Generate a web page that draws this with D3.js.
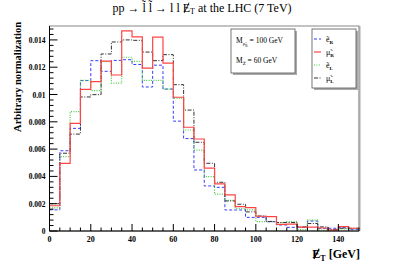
<!DOCTYPE html>
<html>
<head>
<meta charset="utf-8">
<script src="https://cdn.jsdelivr.net/npm/d3@7"></script>
<style>
  body { margin: 0; background: #fff; }
  text { font-family: "Liberation Serif", "DejaVu Serif", serif; }
</style>
</head>
<body>
<div id="chart"></div>
<script>
// bin edges: 30 bins of 5 GeV from 0 to 150
const binWidth = 5;
const nBins = 30;

// values (arbitrary normalization)
const eR = [1.55, 5.88, 7.52, 11.02, 12.48, 11.7, 12.5, 12.55, 12.2, 10.55, 12.15, 10.4, 8.05, 6.77, 4.47,
            3.3, 3.2, 1.54, 1.54, 1.0, 1.0, 0.68, 0.44, 0.27, 0.27, 0.73, 0.2, 0.2, 0.25, 0.1].map(v => v / 1000);
const muR = [1.85, 4.96, 7.89, 10.37, 10.95, 12.45, 11.43, 14.67, 14.22, 11.93, 14.2, 12.3, 9.8, 7.6, 6.74,
             4.6, 3.45, 2.64, 1.78, 1.71, 1.08, 1.05, 0.49, 0.5, 0.29, 0.29, 0.22, 0.07, 0.32, 0.2].map(v => v / 1000);
const eL = [1.7, 5.45, 8.74, 11.04, 10.28, 12.4, 10.84, 12.73, 12.43, 11.04, 11.04, 10.4, 9.74, 7.4, 5.93,
            3.98, 2.7, 2.25, 1.65, 1.55, 0.68, 0.68, 0.62, 0.68, 0.1, 0.8, 0.06, 0.06, 0.15, 0.15].map(v => v / 1000);
const muL = [2.0, 5.7, 7.1, 9.82, 9.99, 12.97, 13.85, 14.0, 13.97, 13.11, 12.48, 12.92, 10.72, 8.86, 6.5,
             4.96, 3.57, 2.2, 1.96, 1.4, 1.1, 0.7, 0.62, 0.62, 0.3, 0.55, 0.3, 0.1, 0.2, 0.2].map(v => v / 1000);

const xTicks = [0, 20, 40, 60, 80, 100, 120, 140];
const yTicks = [0, 0.002, 0.004, 0.006, 0.008, 0.01, 0.012, 0.014];

const width = 399, height = 270;
const margin = {top: 26, bottom: 39, left: 49.5, right: 40};

const svg = d3.select("#chart")
    .append("svg")
    .attr("width", width)
    .attr("height", height);

const xScale = d3.scaleLinear()
    .domain([0, 150])
    .range([margin.left, width - margin.right]);

const yScale = d3.scaleLinear()
    .domain([0, 0.01502])
    .range([height - margin.bottom, margin.top]);

// frame
svg.append("rect")
    .attr("x", xScale(0))
    .attr("y", yScale(0.01502))
    .attr("width", xScale(150) - xScale(0))
    .attr("height", yScale(0) - yScale(0.01502))
    .attr("fill", "none")
    .attr("stroke", "#888")
    .attr("stroke-width", 1);

svg.append("line")
    .attr("x1", xScale(150) + 0.5).attr("x2", xScale(150) + 0.5)
    .attr("y1", yScale(0.01502)).attr("y2", yScale(0))
    .attr("stroke", "#aaa")
    .attr("stroke-width", 2);

// histograms
const series = [
    {name: "eR", values: eR, color: "#3b3bff", dash: "3,2", w: 1},
    {name: "eL", values: eL, color: "#44cc44", dash: "1,1.4", w: 1.2},
    {name: "muL", values: muL, color: "#333", dash: "4,1.5,1,1.5", w: 1},
    {name: "muR", values: muR, color: "#ff4444", dash: null, w: 1.2}
];

const step = d3.line()
    .x(d => xScale(d[0]))
    .y(d => yScale(d[1]))
    .curve(d3.curveStepAfter);

series.forEach(s => {
    const pts = s.values.map((v, i) => [i * binWidth, v]);
    pts.push([nBins * binWidth, s.values[nBins - 1]]);
    svg.append("path")
        .attr("d", step(pts))
        .attr("fill", "none")
        .attr("stroke", s.color)
        .attr("stroke-width", s.w)
        .attr("stroke-dasharray", s.dash);
});

// axes (ticks inside, ROOT style)
const xAxis = svg.append("g")
    .attr("transform", `translate(0,${yScale(0)})`);
xAxis.append("line")
    .attr("x1", xScale(0)).attr("x2", xScale(150))
    .attr("stroke", "#000");
xAxis.selectAll(".minor")
    .data(d3.range(0, 151, 5))
    .enter().append("line")
    .attr("x1", d => xScale(d)).attr("x2", d => xScale(d))
    .attr("y1", 0).attr("y2", d => d % 20 === 0 ? -7 : -3.5)
    .attr("stroke", "#000");
xAxis.selectAll(".lbl")
    .data(xTicks)
    .enter().append("text")
    .attr("x", d => xScale(d))
    .attr("y", 11)
    .attr("text-anchor", "middle")
    .style("font-size", "8px")
    .style("font-weight", "bold")
    .text(d => d);

const yAxis = svg.append("g")
    .attr("transform", `translate(${xScale(0)},0)`);
yAxis.append("line")
    .attr("y1", yScale(0)).attr("y2", yScale(0.01502))
    .attr("stroke", "#000");
yAxis.selectAll(".minor")
    .data(d3.range(0, 38).map(i => i * 0.0004))
    .enter().append("line")
    .attr("y1", d => yScale(d)).attr("y2", d => yScale(d))
    .attr("x1", 0).attr("x2", (d, i) => i % 5 === 0 ? 8 : 4)
    .attr("stroke", "#000");
yAxis.selectAll(".lbl")
    .data(yTicks)
    .enter().append("text")
    .attr("x", -4)
    .attr("y", d => yScale(d) + 3)
    .attr("text-anchor", "end")
    .style("font-size", "7.5px")
    .style("font-weight", "bold")
    .text(d => d === 0 ? "0" : String(+d.toFixed(3)));

// slash through the "E" of a text node (missing-ET symbol)
function slashE(textSel, weight) {
    const node = textSel.node();
    const idx = node.textContent.indexOf("E");
    const box = node.getExtentOfChar(idx);
    svg.append("line")
        .attr("x1", box.x + box.width * 0.2).attr("y1", box.y + box.height * 0.85)
        .attr("x2", box.x + box.width * 0.85).attr("y2", box.y + box.height * 0.12)
        .attr("stroke", "#000")
        .attr("stroke-width", weight);
}

// title
const title = svg.append("text")
    .attr("x", 202)
    .attr("y", 12)
    .attr("text-anchor", "middle")
    .style("font-size", "12px")
    .html('pp \u2192 l\u0303 l\u0303 \u2192 l l E<tspan dy="2" font-size="8px">T</tspan><tspan dy="-2"> at the LHC (7 TeV)</tspan>');
slashE(title, 0.8);

// axis titles
svg.append("text")
    .attr("transform", "rotate(-90)")
    .attr("x", -22)
    .attr("y", 21)
    .attr("text-anchor", "end")
    .style("font-size", "10.5px")
    .style("font-weight", "bold")
    .text("Arbitrary normalization");

const xTitle = svg.append("text")
    .attr("x", 360)
    .attr("y", 258)
    .attr("text-anchor", "end")
    .style("font-size", "12px")
    .style("font-weight", "bold")
    .html('E<tspan dy="3" font-size="8px">T</tspan><tspan dy="-3"> [GeV]</tspan>');
slashE(xTitle, 1.3);

// mass box
const mbox = svg.append("g");
mbox.append("rect")
    .attr("x", 233).attr("y", 31).attr("width", 64).attr("height", 44)
    .attr("fill", "#aaa");
mbox.append("rect")
    .attr("x", 231).attr("y", 29).attr("width", 64).attr("height", 44)
    .attr("fill", "#fff").attr("stroke", "#555").attr("stroke-width", 0.8);
mbox.append("text")
    .attr("x", 236).attr("y", 43)
    .style("font-size", "7.5px")
    .html('M<tspan dy="2" font-size="5px">\u03bc\u0303</tspan><tspan dy="1.5" font-size="3.5px">R</tspan><tspan dy="-3.5"> = 100 GeV</tspan>');
mbox.append("text")
    .attr("x", 236).attr("y", 63)
    .style("font-size", "7.5px")
    .html('M<tspan dy="2" font-size="5px">Z\u0303</tspan><tspan dy="-2"> = 60 GeV</tspan>');

// legend
const legendLabels = [
    {s: series[0], name: "e\u0303", sub: "R"},
    {s: series[3], name: "\u03bc\u0303", sub: "R"},
    {s: series[1], name: "e\u0303", sub: "L"},
    {s: series[2], name: "\u03bc\u0303", sub: "L"}
];
const lg = svg.append("g");
lg.append("rect")
    .attr("x", 314).attr("y", 31).attr("width", 44).attr("height", 59)
    .attr("fill", "#aaa");
lg.append("rect")
    .attr("x", 312).attr("y", 29).attr("width", 44).attr("height", 59)
    .attr("fill", "#fff").attr("stroke", "#555").attr("stroke-width", 0.8);
const rows = lg.selectAll(".row")
    .data(legendLabels)
    .enter().append("g")
    .attr("transform", (d, i) => `translate(0,${39 + i * 13})`);
rows.append("line")
    .attr("x1", 314).attr("x2", 321)
    .attr("stroke", d => d.s.color)
    .attr("stroke-width", d => d.s.w)
    .attr("stroke-dasharray", d => d.s.dash);
rows.append("text")
    .attr("x", 326).attr("y", 2.5)
    .style("font-size", "8px")
    .html(d => `${d.name}<tspan dy="2" font-size="5px" font-weight="bold">${d.sub}</tspan>`);
</script>
</body>
</html>
